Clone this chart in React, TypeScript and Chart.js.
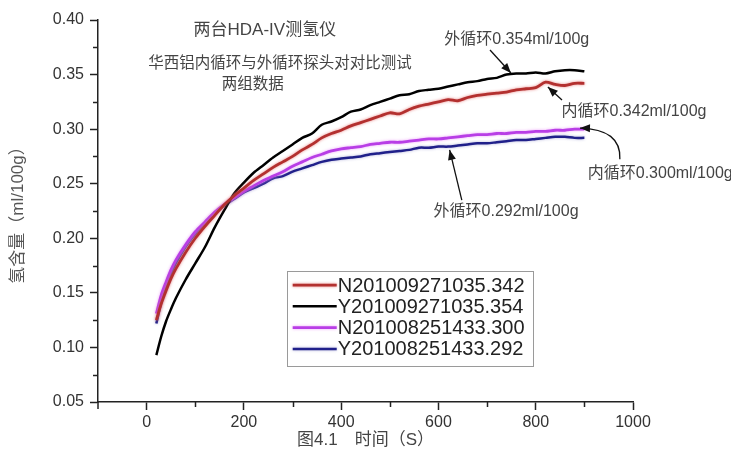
import { useEffect, useRef } from 'react';
import { Chart, registerables } from 'chart.js';

Chart.register(...registerables);

// ---- data ----
const TIME = [20, 30, 40, 50, 60, 80, 100, 120, 140, 160, 180, 200, 220, 240, 260, 280, 300, 320, 340, 360, 380, 400, 420, 440, 460, 480, 500, 520, 540, 560, 580, 600, 620, 640, 660, 680, 700, 720, 740, 760, 780, 800, 820, 840, 860, 880, 900];

const N342 = [0.125, 0.140, 0.152, 0.163, 0.172, 0.187, 0.200, 0.211, 0.221, 0.231, 0.239, 0.246, 0.253, 0.259, 0.265, 0.270, 0.275, 0.281, 0.286, 0.292, 0.296, 0.299, 0.303, 0.306, 0.309, 0.312, 0.315, 0.314, 0.318, 0.321, 0.323, 0.325, 0.327, 0.326, 0.329, 0.331, 0.332, 0.333, 0.334, 0.336, 0.337, 0.338, 0.343, 0.341, 0.340, 0.342, 0.342];

const Y354 = [0.093, 0.110, 0.124, 0.135, 0.145, 0.162, 0.177, 0.192, 0.210, 0.226, 0.241, 0.251, 0.260, 0.267, 0.274, 0.280, 0.286, 0.292, 0.296, 0.304, 0.307, 0.311, 0.316, 0.318, 0.322, 0.325, 0.328, 0.331, 0.332, 0.335, 0.336, 0.337, 0.339, 0.341, 0.343, 0.344, 0.346, 0.347, 0.350, 0.351, 0.351, 0.352, 0.351, 0.353, 0.354, 0.354, 0.353];

const N300 = [0.131, 0.148, 0.160, 0.171, 0.180, 0.194, 0.206, 0.215, 0.224, 0.231, 0.237, 0.243, 0.248, 0.253, 0.257, 0.261, 0.266, 0.270, 0.274, 0.277, 0.280, 0.282, 0.283, 0.284, 0.286, 0.287, 0.288, 0.288, 0.289, 0.290, 0.291, 0.291, 0.292, 0.293, 0.294, 0.295, 0.295, 0.296, 0.296, 0.297, 0.297, 0.298, 0.298, 0.299, 0.299, 0.300, 0.300];

const Y292 = [0.122, 0.141, 0.155, 0.167, 0.177, 0.192, 0.204, 0.214, 0.223, 0.230, 0.236, 0.242, 0.246, 0.250, 0.255, 0.257, 0.261, 0.264, 0.267, 0.270, 0.272, 0.273, 0.274, 0.275, 0.277, 0.278, 0.279, 0.280, 0.281, 0.283, 0.283, 0.284, 0.284, 0.285, 0.286, 0.287, 0.287, 0.288, 0.289, 0.290, 0.290, 0.291, 0.292, 0.293, 0.293, 0.292, 0.292];

const SERIES_LABELS = ['N201009271035.342', 'Y201009271035.354', 'N201008251433.300', 'Y201008251433.292'];

const X_MAJOR = [0, 200, 400, 600, 800, 1000];
const X_MINOR = [100, 300, 500, 700, 900];
const Y_MAJOR = [0.05, 0.10, 0.15, 0.20, 0.25, 0.30, 0.35, 0.40];
const Y_MINOR = [0.075, 0.125, 0.175, 0.225, 0.275, 0.325, 0.375];

const TITLE_LINES = ['两台HDA-IV测氢仪', '华西铝内循环与外循环探头对对比测试', '两组数据'];
const NOTE_TEXTS = ['外循环0.354ml/100g', '内循环0.342ml/100g', '内循环0.300ml/100g', '外循环0.292ml/100g'];

const SANS = "'Liberation Sans', Arial, 'Noto Sans CJK SC', sans-serif";
const CJK = "'Noto Sans CJK SC', sans-serif";

const COLORS = ['#b3302f', '#000000', '#b83ee6', '#20208a'];
const HALOS = ['rgba(230,120,120,0.9)', 'rgba(0,0,0,0)', 'rgba(235,150,250,0.9)', 'rgba(60,60,160,0.4)'];

function arrowHead(ctx: CanvasRenderingContext2D, fx: number, fy: number, tx: number, ty: number) {
  const ang = Math.atan2(ty - fy, tx - fx);
  const L = 10, W = 4;
  ctx.beginPath();
  ctx.moveTo(tx, ty);
  ctx.lineTo(tx - L * Math.cos(ang) + W * Math.sin(ang), ty - L * Math.sin(ang) - W * Math.cos(ang));
  ctx.lineTo(tx - L * Math.cos(ang) - W * Math.sin(ang), ty - L * Math.sin(ang) + W * Math.cos(ang));
  ctx.closePath();
  ctx.fill();
}

const haloPlugin = {
  id: 'halo',
  beforeDatasetDraw(chart: any, args: any) {
    const ctx = chart.ctx;
    ctx.save();
    ctx.shadowColor = HALOS[args.index];
    ctx.shadowBlur = 3;
  },
  afterDatasetDraw(chart: any) {
    chart.ctx.restore();
  },
};

const decorPlugin = {
  id: 'decor',
  afterDraw(chart: any) {
    const { ctx } = chart;
    const xs = chart.scales.x;
    const ys = chart.scales.y;
    const px = (v: number) => xs.getPixelForValue(v);
    const py = (v: number) => ys.getPixelForValue(v);
    ctx.save();

    // minor ticks
    ctx.strokeStyle = '#222';
    ctx.lineWidth = 1.5;
    const bottom = chart.chartArea.bottom;
    const left = chart.chartArea.left;
    X_MINOR.forEach((v) => {
      const X = Math.round(px(v)) + 0.5;
      ctx.beginPath();
      ctx.moveTo(X, bottom);
      ctx.lineTo(X, bottom + 5);
      ctx.stroke();
    });
    Y_MINOR.forEach((v) => {
      const Y = Math.round(py(v)) + 0.5;
      ctx.beginPath();
      ctx.moveTo(left, Y);
      ctx.lineTo(left - 5, Y);
      ctx.stroke();
    });
    ctx.beginPath();
    ctx.moveTo(left, bottom);
    ctx.lineTo(left, bottom + 7);
    ctx.stroke();

    // titles
    ctx.fillStyle = '#444';
    ctx.textAlign = 'center';
    ctx.textBaseline = 'middle';
    ctx.font = `17px ${SANS}`;
    ctx.fillText(TITLE_LINES[0], px(243), py(0.3905));
    ctx.font = `15.5px ${CJK}`;
    ctx.fillText(TITLE_LINES[1], px(274), py(0.3615));
    ctx.fillText(TITLE_LINES[2], px(218), py(0.3423));

    // notes
    ctx.font = `16px ${SANS}`;
    ctx.fillText(NOTE_TEXTS[0], px(761), py(0.3817));
    ctx.fillText(NOTE_TEXTS[1], px(1002), py(0.3165));
    ctx.fillText(NOTE_TEXTS[2], px(1056), py(0.2589));
    ctx.fillText(NOTE_TEXTS[3], px(739), py(0.224));

    // arrows
    ctx.strokeStyle = '#111';
    ctx.fillStyle = '#111';
    ctx.lineWidth = 1.3;
    const straight = (a: number, b: number, c: number, d: number) => {
      const x1 = px(a), y1 = py(b), x2 = px(c), y2 = py(d);
      ctx.beginPath();
      ctx.moveTo(x1, y1);
      ctx.lineTo(x2, y2);
      ctx.stroke();
      arrowHead(ctx, x1, y1, x2, y2);
    };
    straight(706, 0.3725, 749, 0.3514);
    straight(854, 0.3267, 825, 0.3386);
    straight(648, 0.235, 623, 0.281);
    {
      const x1 = px(973), y1 = py(0.2725);
      const cx = px(976), cy = py(0.300);
      const x2 = px(891), y2 = py(0.301);
      ctx.beginPath();
      ctx.moveTo(x1, y1);
      ctx.quadraticCurveTo(cx, cy, x2, y2);
      ctx.stroke();
      arrowHead(ctx, cx, cy, x2, y2);
    }

    // legend
    const lx = px(288), ly = py(0.170);
    const lw = 246, lh = 95;
    ctx.fillStyle = '#fff';
    ctx.fillRect(lx, ly, lw, lh);
    ctx.strokeStyle = '#9a9a9a';
    ctx.lineWidth = 1;
    ctx.strokeRect(Math.round(lx) + 0.5, Math.round(ly) + 0.5, lw, lh);
    ctx.font = `20px ${SANS}`;
    ctx.textAlign = 'left';
    ctx.textBaseline = 'middle';
    chart.data.datasets.forEach((ds: any, i: number) => {
      const ry = ly + 14 + i * 21.3;
      ctx.save();
      ctx.shadowColor = HALOS[i];
      ctx.shadowBlur = 3;
      ctx.strokeStyle = ds.borderColor;
      ctx.lineWidth = ds.borderWidth;
      ctx.beginPath();
      ctx.moveTo(lx + 6, ry);
      ctx.lineTo(lx + 50, ry);
      ctx.stroke();
      ctx.restore();
      ctx.fillStyle = '#222';
      ctx.fillText(ds.label, lx + 51, ry + 1);
    });

    ctx.restore();
  },
};

export default function App() {
  const ref = useRef<HTMLCanvasElement | null>(null);
  useEffect(() => {
    document.body.style.margin = '0';
    const canvas = ref.current!;
    const values = [N342, Y354, N300, Y292];
    const chart = new Chart(canvas, {
      type: 'line',
      data: {
        datasets: values.map((vals, i) => ({
          label: SERIES_LABELS[i],
          data: TIME.map((t, k) => ({ x: t, y: vals[k] })),
          borderColor: COLORS[i],
          backgroundColor: COLORS[i],
          borderWidth: i === 1 || i === 3 ? 2.5 : 2.8,
          pointRadius: 0,
          tension: 0.3,
          fill: false,
        })),
      },
      options: {
        animation: false,
        responsive: false,
        maintainAspectRatio: false,
        layout: { padding: { top: 20, right: 98, left: 0, bottom: 0 } },
        plugins: {
          legend: { display: false },
          tooltip: { enabled: false },
          title: { display: false },
        },
        scales: {
          x: {
            type: 'linear',
            min: -100,
            max: 1000,
            afterBuildTicks: (s: any) => {
              s.ticks = X_MAJOR.map((v) => ({ value: v }));
            },
            afterFit: (s: any) => {
              s.height = 57;
            },
            ticks: {
              font: { family: SANS, size: 16 },
              color: '#333',
              padding: 3,
              maxRotation: 0,
              autoSkip: false,
              callback: (v: any) => String(v),
            },
            grid: { display: true, drawOnChartArea: false, drawTicks: true, tickLength: 8, tickColor: '#222', tickWidth: 1.5 },
            border: { display: true, color: '#222', width: 1.5 },
            title: {
              display: true,
              text: '图4.1　时间（S）',
              font: { family: SANS, size: 17 },
              color: '#444',
              padding: { top: 0, bottom: 8 },
            },
          },
          y: {
            type: 'linear',
            min: 0.05,
            max: 0.4,
            afterBuildTicks: (s: any) => {
              s.ticks = Y_MAJOR.map((v) => ({ value: v }));
            },
            afterFit: (s: any) => {
              s.width = 98;
            },
            ticks: {
              font: { family: SANS, size: 16 },
              color: '#333',
              padding: 6,
              autoSkip: false,
              callback: (v: any) => Number(v).toFixed(2),
            },
            grid: { display: true, drawOnChartArea: false, drawTicks: true, tickLength: 8, tickColor: '#222', tickWidth: 1.5 },
            border: { display: true, color: '#222', width: 1.5 },
            title: {
              display: true,
              text: '氢含量（ml/100g）',
              font: { family: SANS, size: 17 },
              color: '#555',
              padding: { top: 8, bottom: 0 },
            },
          },
        },
      },
      plugins: [haloPlugin, decorPlugin],
    } as any);
    return () => chart.destroy();
  }, []);
  return <canvas ref={ref} width={731} height={459} style={{ display: 'block', width: 731, height: 459 }} />;
}
